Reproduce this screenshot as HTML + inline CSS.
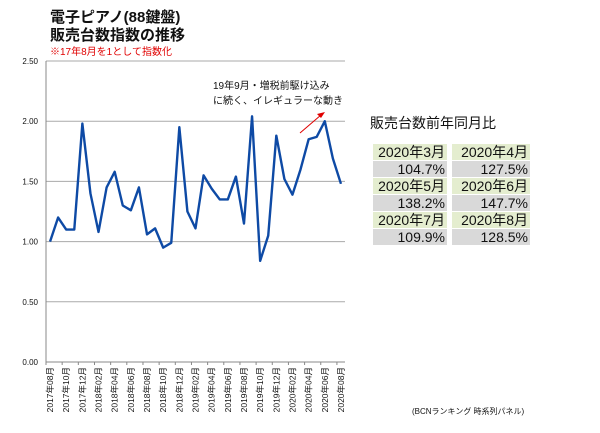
<!DOCTYPE html>
<html><head><meta charset="utf-8"><style>
body{margin:0;background:#fff;width:600px;height:433px;overflow:hidden;font-family:"Liberation Sans","Noto Sans CJK JP",sans-serif;}
.tbl{position:absolute;left:373px;top:143px;border-collapse:separate;border-spacing:5px 1px;margin-left:-5px}
.tbl td{width:72px;height:16px;padding:0 2px 0 0;text-align:right;font-size:14px;line-height:16px;color:#111}
.tbl td+td{width:76px}
.tbl td.h{background:#e4edcf}
.tbl td.v{background:#d9d9d9}
</style></head><body>
<svg width="600" height="433" style="position:absolute;left:0;top:0">
<text x="50" y="22" font-size="15" font-weight="bold" fill="#111">電子ピアノ(88鍵盤)</text>
<text x="50" y="40" font-size="15" font-weight="bold" fill="#111">販売台数指数の推移</text>
<text x="50" y="55" font-size="10" fill="#e00000">※17年8月を1として指数化</text>
<g id="grid"></g><g id="yt"></g><g id="xt"></g>
<polyline id="line" fill="none" stroke="#0e4aa5" stroke-width="2.4" stroke-linejoin="round"/>
<text x="213" y="89" font-size="10" fill="#111">19年9月・増税前駆け込み</text>
<text x="213" y="104" font-size="10" fill="#111">に続く、イレギュラーな動き</text>
<line x1="300" y1="133" x2="321" y2="115" stroke="#e00000" stroke-width="1"/>
<polygon points="325,112 317,114 321,118" fill="#e00000"/>
<text x="370" y="128" font-size="14" fill="#111">販売台数前年同月比</text>
<text x="412" y="414" font-size="8" fill="#111">(BCNランキング 時系列パネル)</text>
</svg>
<table class="tbl">
<tr><td class="h">2020年3月</td><td class="h">2020年4月</td></tr>
<tr><td class="v">104.7%</td><td class="v">127.5%</td></tr>
<tr><td class="h">2020年5月</td><td class="h">2020年6月</td></tr>
<tr><td class="v">138.2%</td><td class="v">147.7%</td></tr>
<tr><td class="h">2020年7月</td><td class="h">2020年8月</td></tr>
<tr><td class="v">109.9%</td><td class="v">128.5%</td></tr>
</table>
<script>
const values=[1.00,1.20,1.10,1.10,1.98,1.40,1.08,1.45,1.58,1.30,1.26,1.45,1.06,1.11,0.95,0.99,1.95,1.25,1.11,1.55,1.44,1.35,1.35,1.54,1.15,2.04,0.84,1.05,1.88,1.52,1.39,1.60,1.85,1.87,2.00,1.69,1.48];
const yTicks=[0,0.5,1,1.5,2,2.5];
const yLabels=["0.00","0.50","1.00","1.50","2.00","2.50"];
const xLabels=["2017年08月","2017年10月","2017年12月","2018年02月","2018年04月","2018年06月","2018年08月","2018年10月","2018年12月","2019年02月","2019年04月","2019年06月","2019年08月","2019年10月","2019年12月","2020年02月","2020年04月","2020年06月","2020年08月"];
const NS="http://www.w3.org/2000/svg";
const X0=46,X1=345,Y0=362,Y1=61;
const step=(X1-X0)/values.length;
const xs=i=>X0+step*(i+0.5);
const ys=v=>Y0-(v/2.5)*(Y0-Y1);
function mk(tag,attrs,parent){const e=document.createElementNS(NS,tag);for(const k in attrs)e.setAttribute(k,attrs[k]);document.getElementById(parent).appendChild(e);return e;}
yTicks.forEach((t,i)=>{
 if(t>0){const g=mk('line',{x1:X0,x2:X1,y1:ys(t),y2:ys(t),stroke:'#aaa','stroke-width':1},'grid');
 
 }
 const tx=mk('text',{x:X0-8,y:ys(t)+3,'font-size':8,'text-anchor':'end',fill:'#111'},'yt');
 tx.textContent=yLabels[i];
 
 
});
const ax=mk('line',{x1:X0,x2:X0,y1:Y1,y2:Y0,stroke:'#888'},'grid');


const bx=mk('line',{x1:X0,x2:X1,y1:Y0,y2:Y0,stroke:'#888'},'grid');


for(let i=0;i<=values.length;i+=2){mk('line',{x1:X0+step*i,x2:X0+step*i,y1:Y0,y2:Y0+3,stroke:'#888'},'grid');}
xLabels.forEach((l,k)=>{
 const x=xs(k*2)+3,y=Y0+5;
 const tx=mk('text',{x:x,y:y,'font-size':8.5,'text-anchor':'end',fill:'#111',transform:`rotate(-90 ${x} ${y})`},'xt');
 tx.textContent=l;
 
 
});
document.getElementById('line').setAttribute('points',values.map((v,i)=>xs(i)+','+ys(v)).join(' '));
</script>
</body></html>
